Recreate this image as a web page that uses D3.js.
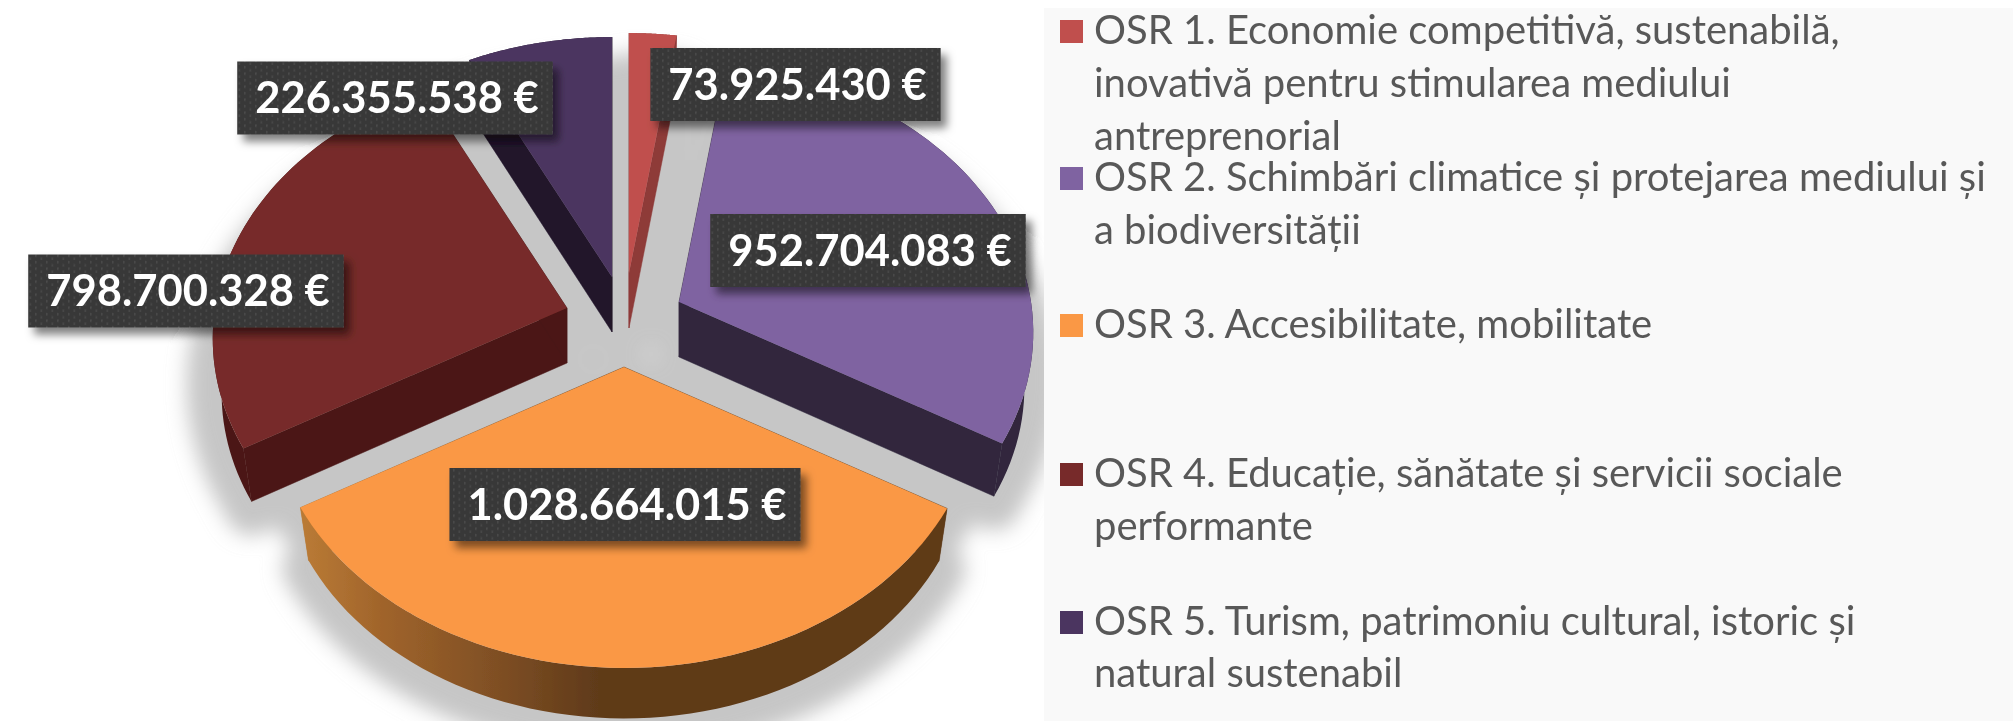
<!DOCTYPE html>
<html><head><meta charset="utf-8">
<script src="https://cdnjs.cloudflare.com/ajax/libs/d3/7.8.5/d3.min.js"></script>
<style>html,body{margin:0;padding:0;background:#fff;overflow:hidden}svg{display:block}</style>
</head><body><svg id="c" width="2013" height="721"></svg>
<script>
// Data
const values = [73925430, 952704083, 1028664015, 798700328, 226355538];
const legendLines = [
  ["OSR 1. Economie competitivă, sustenabilă,", "inovativă pentru stimularea mediului", "antreprenorial"],
  ["OSR 2. Schimbări climatice și protejarea mediului și", "a biodiversității"],
  ["OSR 3. Accesibilitate, mobilitate"],
  ["OSR 4. Educație, sănătate și servicii sociale", "performante"],
  ["OSR 5. Turism, patrimoniu cultural, istoric și", "natural sustenabil"]
];
// Styles
const topColors  = ["#C0504D", "#7F63A1", "#FA9845", "#772C2A", "#4C3661"];
const sideColors = ["#8E3A38", "#30263D", "url(#wall)", "#4B1716", "#21142B"];
// Layout: apex of each exploded slice, label centres, legend positions
const apexX = [629, 679, 624, 567, 612];
const apexY = [273, 302, 367, 308, 277];
const labelCX = [795.5, 868, 625, 186, 395];
const labelCY = [84.5, 250.5, 504.5, 291, 98];
const legendBaselines = [[44, 97, 150], [191, 244], [338], [487, 540], [635, 687]];

const svg = d3.select("#c");
const defs = svg.append("defs");
const blur = defs.append("filter").attr("id", "shadow").attr("x", "-20%").attr("y", "-20%").attr("width", "140%").attr("height", "140%");
blur.append("feGaussianBlur").attr("stdDeviation", 10);
const soft = defs.append("filter").attr("id", "soft").attr("filterUnits", "userSpaceOnUse")
  .attr("x", 0).attr("y", 0).attr("width", 2013).attr("height", 721);
soft.append("feGaussianBlur").attr("stdDeviation", 0.6);
const ds = defs.append("filter").attr("id", "boxshadow").attr("x", "-10%").attr("y", "-20%").attr("width", "125%").attr("height", "150%");
ds.append("feDropShadow").attr("dx", 6).attr("dy", 7).attr("stdDeviation", 4).attr("flood-color", "#000").attr("flood-opacity", 0.5);
const wall = defs.append("linearGradient").attr("id", "wall").attr("gradientUnits", "userSpaceOnUse")
  .attr("x1", 305).attr("x2", 945).attr("y1", 0).attr("y2", 0);
[[0, "#B97A35"], [0.12, "#A0642B"], [0.3, "#7F4F24"], [0.46, "#5F3A19"], [1, "#5F3A19"]]
  .forEach(s => wall.append("stop").attr("offset", s[0]).attr("stop-color", s[1]));
const pat = defs.append("pattern").attr("id", "dots").attr("patternUnits", "userSpaceOnUse").attr("width", 11).attr("height", 6.5);
pat.append("rect").attr("width", 11).attr("height", 6.5).attr("fill", "#393939");
pat.append("rect").attr("x", 2).attr("y", 1).attr("width", 1.6).attr("height", 2.4).attr("fill", "#4B4B4B");
pat.append("rect").attr("x", 7.5).attr("y", 4.2).attr("width", 1.6).attr("height", 2.2).attr("fill", "#474747");

// Perspective projection of the pie's unit disc
const A = 352, B = 267, P = 0.1128, DEPTH = 55;
const proj = (a, r) => { const u = r * Math.sin(a), v = -r * Math.cos(a), w = 1 - P * v; return [A * u / w, B * v / w]; };
const topPt = (i, a, r) => { const p = proj(a, r); return [apexX[i] + p[0], apexY[i] + p[1]]; };
const botPt = (i, a, r) => { const p = proj(a, r); return [apexX[i] + p[0] * 0.975, apexY[i] + p[1] * 0.985 + DEPTH]; };

const arcs = d3.pie().sort(null).startAngle(0).endAngle(2 * Math.PI)(values);
const line = d3.line();
const sample = d => d3.range(0, 61).map(k => d.startAngle + (d.endAngle - d.startAngle) * k / 60);
const topPoly = (d, i) => [[apexX[i], apexY[i]], ...sample(d).map(a => topPt(i, a, 1))];
const botPoly = (d, i) => [[apexX[i], apexY[i] + DEPTH], ...sample(d).map(a => botPt(i, a, 1))];

const root = svg.append("g").attr("filter", "url(#soft)");

// Shadow
const sh = root.append("g").attr("filter", "url(#shadow)").attr("transform", "translate(0,8)");
arcs.forEach((d, i) => {
  [topPoly(d, i), botPoly(d, i)].forEach((poly, k) => {
    if (i !== 2 && k === 0) poly = poly.map(p => [p[0], p[1] + 38]);
    sh.append("path").attr("d", line(poly) + "Z").attr("fill", "#c6c6c6").attr("stroke", "#c6c6c6").attr("stroke-width", 52).attr("stroke-linejoin", "round");
  });
});

// Panel
root.append("rect").attr("x", 1044).attr("y", 8).attr("width", 969).attr("height", 713).attr("fill", "#F9F9F9");

// Slices, painted back to front
const order = [4, 0, 1, 3, 2];
const g = root.append("g");
order.forEach(i => {
  const d = arcs[i], ang = sample(d), col = sideColors[i];
  const quad = (a) => [[apexX[i], apexY[i]], topPt(i, a, 1), botPt(i, a, 1), [apexX[i], apexY[i] + DEPTH]];
  g.append("path").attr("d", line(quad(d.startAngle)) + "Z").attr("fill", col).attr("stroke", col).attr("stroke-width", .5);
  g.append("path").attr("d", line(quad(d.endAngle)) + "Z").attr("fill", col).attr("stroke", col).attr("stroke-width", .5);
  const wallPoly = [...ang.map(a => topPt(i, a, 1)), ...ang.slice().reverse().map(a => botPt(i, a, 1))];
  g.append("path").attr("d", line(wallPoly) + "Z").attr("fill", col);
  g.append("path").attr("d", line(topPoly(d, i)) + "Z").attr("fill", topColors[i]);
});

// Value labels
const fmt = d3.formatLocale({decimal: ",", thousands: ".", grouping: [3], currency: ["", " €"]}).format(",");
const lab = root.append("g");
values.forEach((v, i) => {
  const t = lab.append("text").attr("x", labelCX[i] + 2).attr("y", labelCY[i] + 15).attr("text-anchor", "middle")
    .attr("font-family", "Lato").attr("font-weight", 700).attr("font-size", 43.5).attr("fill", "#fff").text(fmt(v) + " €");
  const w = t.node().getComputedTextLength();
  lab.insert("rect", "text").attr("x", labelCX[i] - w / 2 - 16).attr("y", labelCY[i] - 36.5).attr("width", w + 32).attr("height", 73)
    .attr("fill", "url(#dots)").attr("filter", "url(#boxshadow)");
});

// Legend
const leg = root.append("g");
legendLines.forEach((lines, i) => {
  leg.append("rect").attr("x", 1060).attr("y", legendBaselines[i][0] - 24).attr("width", 23).attr("height", 23).attr("fill", topColors[i]);
  lines.forEach((l, k) => leg.append("text").attr("x", 1094).attr("y", legendBaselines[i][k])
    .attr("font-family", "Lato").attr("font-size", 40).attr("fill", "#595959").text(l));
});
</script></body></html>
